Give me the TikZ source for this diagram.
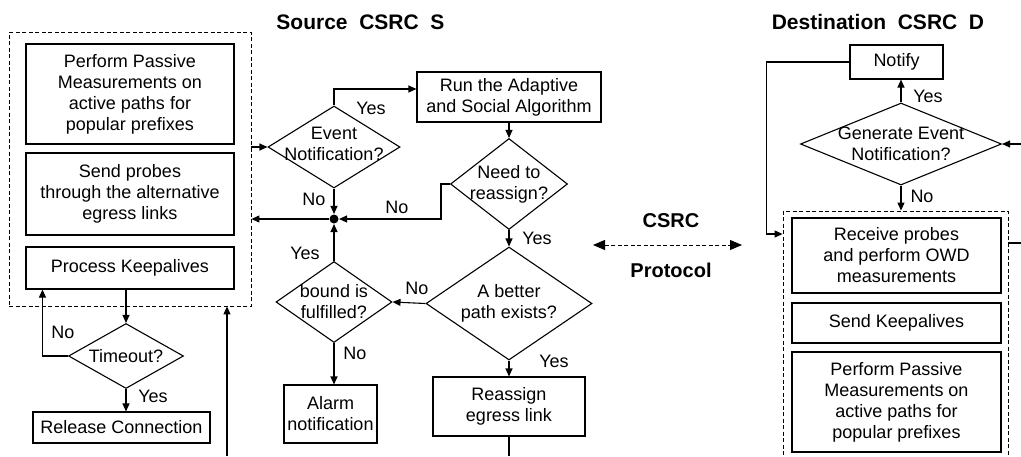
\documentclass[tikz,border=0pt]{standalone}
\usepackage{fontspec}
\setmainfont{Liberation Sans}
\usetikzlibrary{shapes.geometric,arrows.meta,calc}

\begin{document}
\begin{tikzpicture}[x=1pt,y=-1pt,line width=1.1pt,
  every node/.style={font=\fontsize{18}{21}\selectfont,inner sep=0pt},
  box/.style={draw,rectangle,align=center},
  dia/.style={draw,diamond},
  txt/.style={align=center},
  grp/.style={draw,rectangle,line width=0.85pt,dash pattern=on 4pt off 2.5pt},
  head/.style={font=\fontsize{21}{25}\selectfont\bfseries,anchor=base},
  proto/.style={font=\fontsize{20}{24}\selectfont\bfseries},
  arr/.style={-{Triangle[length=8pt,width=7pt]}},
  darr/.style={{Triangle[length=12pt,width=10pt]}-{Triangle[length=12pt,width=10pt]},line width=0.85pt,dash pattern=on 4pt off 2.5pt},
  jdot/.style={circle,fill,minimum size=9pt},
]
\useasboundingbox (0,0) rectangle (1021,456);
\clip (0,0) rectangle (1021,456);

% headings
\node[head] (ttlS) at (360.5,29) {Source\ \ CSRC\ \ S};
\node[head] (ttlD) at (878,29) {Destination\ \ CSRC\ \ D};

% ---------- source side: monitoring group ----------
\node[grp,minimum width=242pt,minimum height=274pt] (lbox) at (130,169) {};
\node[box,minimum width=208pt,minimum height=100pt] (pp1) at (130,94)
  {Perform Passive\\Measurements on\\active paths for\\popular prefixes};
\node[box,minimum width=208pt,minimum height=82pt] (sp) at (130,194)
  {Send probes\\through the alternative\\egress links};
\node[box,minimum width=208pt,minimum height=42pt] (pk) at (130,268)
  {Process Keepalives};

% keepalive timeout
\node[dia,minimum width=115pt,minimum height=65pt] (to) at (126,356) {};
\node[txt] (tot) at (to) {Timeout?};
\node[box,minimum width=177pt,minimum height=31pt] (rel) at (121.5,427.5)
  {Release Connection};

% ---------- source side: decision logic ----------
\node[dia,minimum width=132pt,minimum height=82pt] (ev) at (334,147) {};
\node[txt] (evt) at ([yshift=3pt]ev.center) {Event\\Notification?};
\node[box,minimum width=184pt,minimum height=50pt] (run) at (509,97)
  {Run the Adaptive\\and Social Algorithm};
\node[dia,minimum width=117pt,minimum height=91pt] (need) at (509,184) {};
\node[txt] (needt) at (need) {Need to\\reassign?};
\node[jdot] (dot) at (334,219) {};
\node[dia,minimum width=116pt,minimum height=81pt] (bound) at (334,302) {};
\node[txt] (boundt) at (bound) {bound is\\fulfilled?};
\node[dia,minimum width=166pt,minimum height=113pt] (better) at (509,303.5) {};
\node[txt] (bettert) at (better) {A better\\path exists?};
\node[box,minimum width=93pt,minimum height=58pt] (alarm) at (330.5,414)
  {Alarm\\notification};
\node[box,minimum width=152pt,minimum height=59pt] (reas) at (509,406.5)
  {Reassign\\egress link};

% ---------- protocol between the two sides ----------
\node[proto] (csrc) at (671,221) {CSRC};
\node[proto] (prot) at (671,270) {Protocol};
\coordinate (pl) at (593,245);
\coordinate (pr) at (742,245);
\draw[darr] (pl) -- (pr);

% ---------- destination side ----------
\node[box,minimum width=93pt,minimum height=34pt] (nt) at (896.5,62) {Notify};
\node[dia,minimum width=201pt,minimum height=82pt] (gen) at (901,144) {};
\node[txt] (gent) at (gen) {Generate Event\\Notification?};
\node[grp,minimum width=225pt,minimum height=259pt] (rbox) at (895.5,340.5) {};
\node[box,minimum width=209pt,minimum height=75pt] (rec) at (896.5,255.5)
  {Receive probes\\and perform OWD\\measurements};
\node[box,minimum width=209pt,minimum height=40pt] (sk) at (896.5,323)
  {Send Keepalives};
\node[box,minimum width=209pt,minimum height=100pt] (pp2) at (896.5,402)
  {Perform Passive\\Measurements on\\active paths for\\popular prefixes};

% free ends at the picture border
\coordinate (ub) at (227,456);
\coordinate (rb) at (509,456);
\coordinate (re) at (1021,144);
\coordinate (rs) at (1021,243);

% ---------- connectors, source side ----------
\draw[arr] (lbox.east |- ev.west) -- (ev.west);
\draw[arr] (ev.north) |- ([yshift=8pt]run.west);
\draw[arr] (run.south) -- (need.north);
\draw[arr] (need.west) -- ++(-9,0) |- (dot);
\draw[arr] (ev.south) -- (dot);
\draw[arr] (bound.north) -- (dot);
\draw[arr] (dot) -- (dot -| lbox.east);
\draw[arr] (need.south) -- (better.north);
\draw[arr] (better.west) -- (bound.east);
\draw[arr] (bound.south) -- (bound.south |- alarm.north);
\draw[arr] (better.south) -- (reas.north);
\draw (reas.south) -- (rb);
\draw[arr] (ub) -- (ub |- lbox.south);

\draw[arr] (to.north |- pk.south) -- (to.north);
\draw[arr] (to.west) -| ([xshift=17pt]pk.south west);
\draw[arr] (to.south) -- (to.south |- rel.north);

% ---------- connectors, destination side ----------
\draw[arr] (nt.west) -- ++(-83,0) |- ([yshift=21.5pt]rbox.west |- rec.center);
\draw[arr] (gen.north) -- (gen.north |- nt.south);
\draw[arr] (gen.south) -- (gen.south |- rbox.north);
\draw[arr] (re) -- (gen.east);
\draw (rs -| rbox.east) -- (rs);

% ---------- branch labels ----------
\node (l1) at (371,108) {Yes};
\node (l2) at (314,199) {No};
\node (l3) at (397,207) {No};
\node (l4) at (537,238) {Yes};
\node (l5) at (305,253) {Yes};
\node (l6) at (417,288) {No};
\node (l7) at (355,353) {No};
\node (l8) at (554,361) {Yes};
\node (l9) at (63,332) {No};
\node (l10) at (153,396) {Yes};
\node (l11) at (928,96) {Yes};
\node (l12) at (922,196) {No};
\end{tikzpicture}
\end{document}
